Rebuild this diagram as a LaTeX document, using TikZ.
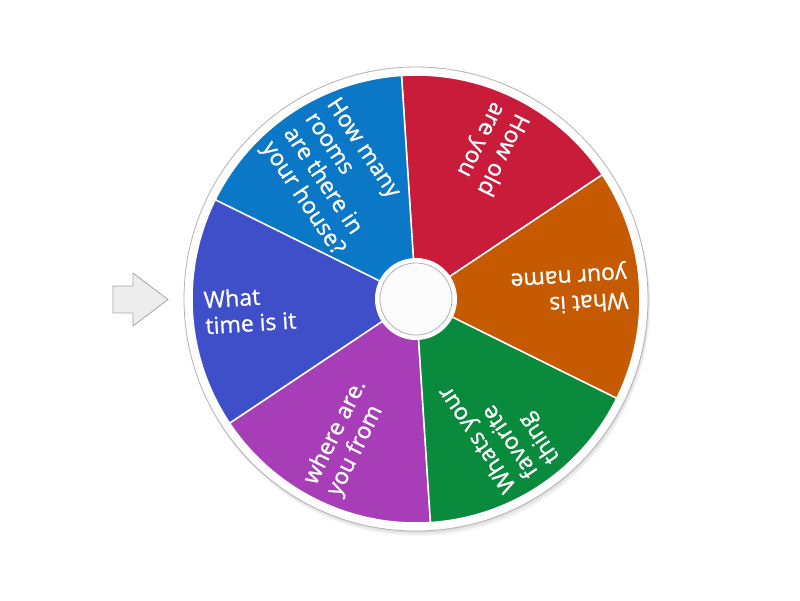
\documentclass[tikz,border=0pt]{standalone}
\usepackage{fontspec}
\newfontfamily\wheelfont[FakeBold=0.9]{Open Sans}
\definecolor{wred}{RGB}{200,28,58}
\definecolor{wblue}{RGB}{10,119,199}
\definecolor{windigo}{RGB}{63,79,201}
\definecolor{wpurple}{RGB}{168,61,184}
\definecolor{wgreen}{RGB}{10,138,60}
\definecolor{worange}{RGB}{197,90,0}
\tikzset{
  qtext/.style={anchor=west, inner sep=0pt, text=white, align=left,
    font=\wheelfont\fontsize{23}{26}\selectfont}
}
\begin{document}
\begin{tikzpicture}[x=1pt,y=1pt]
    \useasboundingbox (0,0) rectangle (800,600);
    \fill[white] (0,0) rectangle (800,600);
    \coordinate (c) at (416,301);
    \foreach \s in {1,...,6}{
      \fill[black, opacity=0.025] ([shift={(0.4*\s,-0.9*\s)}]c) circle (232pt);
    }
    \draw[black!30, fill=white, line width=0.8pt] (c) circle (232pt);
    \foreach \a/\col/\txt [count=\i] in {33.7/wred/{How old\\are you},
        93.7/wblue/{How many\\rooms\\are there in\\your house?},
        153.7/windigo/{What\\time is it},
        213.7/wpurple/{where are.\\you from},
        273.7/wgreen/{Whats your\\favorite\\thing},
        333.7/worange/{What is\\your name}}{
      \filldraw[fill=\col, draw=white, line width=1.5pt] (c) -- ++(\a:224pt) arc (\a:\a+60:224pt) -- cycle;
      \node[qtext, rotate=\a+210] (q\i) at ([shift={(\a+30:212pt)}]c) {\txt};
    }
    \node[circle, fill=white, minimum size=82pt, inner sep=0pt] (hubring) at (c) {};
    \node[circle, draw=black!30, fill=black!1, minimum size=72pt, inner sep=0pt, line width=0.8pt] (hub) at (c) {};
    \draw[black!35, fill=black!7, line width=0.8pt, line join=round] (113,287) -- (113,314) -- (133,314)
      -- (133,327) -- (168,300.5) -- (133,274) -- (133,287) -- cycle;
\end{tikzpicture}
\end{document}
